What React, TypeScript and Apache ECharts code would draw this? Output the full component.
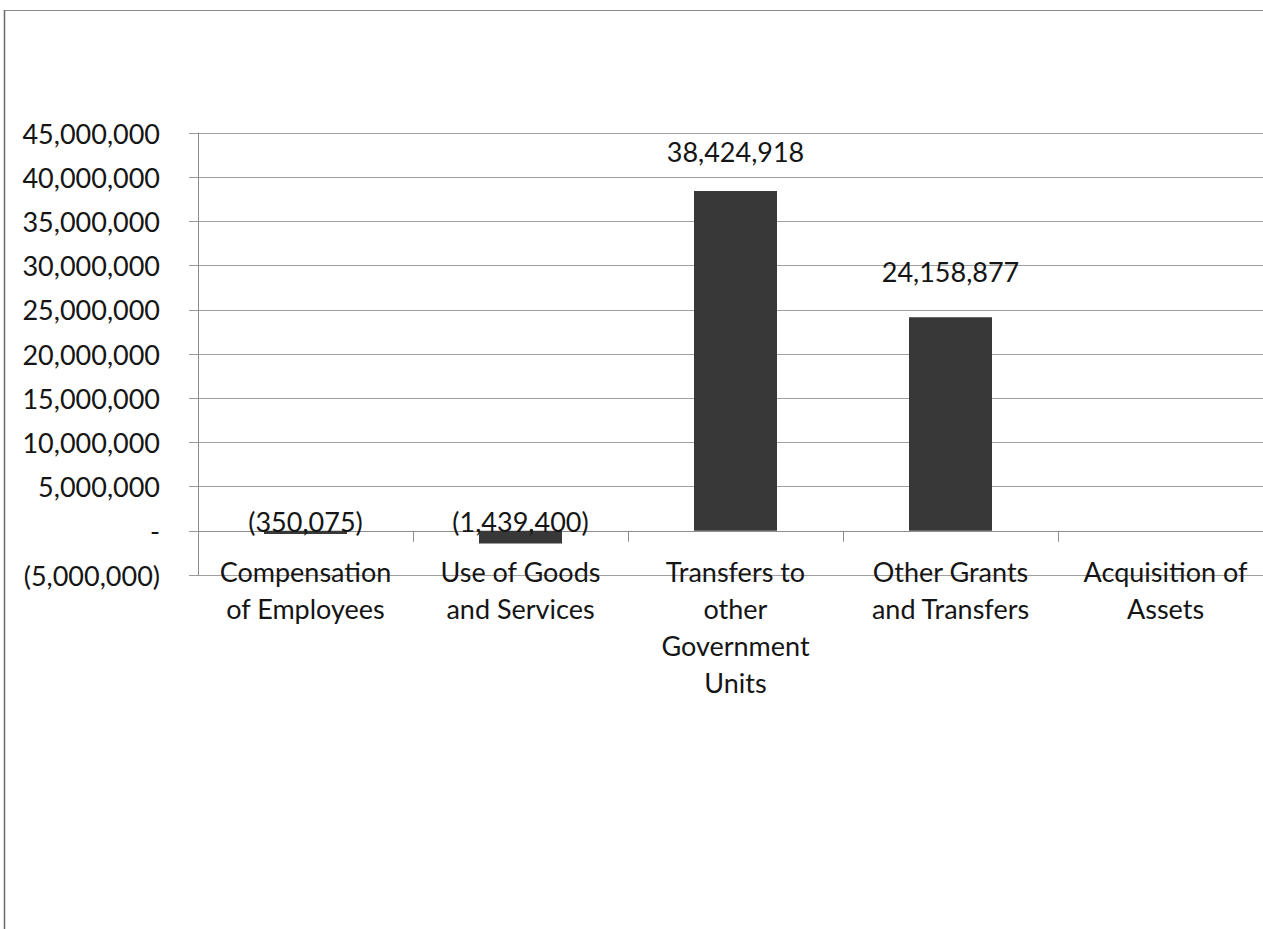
import React, { useEffect, useRef } from "react";
import * as echarts from "echarts";

const categories = [
  "Compensation\nof Employees",
  "Use of Goods\nand Services",
  "Transfers to\nother\nGovernment\nUnits",
  "Other Grants\nand Transfers",
  "Acquisition of\nAssets",
];
const values = [-350075, -1439400, 38424918, 24158877, 0];
const labelDistances = [-4, -4, 26, 32, 0];

const yMin = -5000000;
const yMax = 45000000;
const yInterval = 5000000;

const FONT = "Lato";
const TEXT = "#151515";

function fmt(v: number): string {
  if (v === 0) return "-";
  const s = Math.abs(v).toLocaleString("en-US");
  return v < 0 ? `(${s})` : s;
}

export default function App() {
  const ref = useRef<HTMLDivElement>(null);
  useEffect(() => {
    document.body.style.margin = "0";
    const chart = echarts.init(ref.current!, null, { renderer: "svg" });
    chart.setOption({
      animation: false,
      backgroundColor: "#ffffff",
      textStyle: { fontFamily: FONT },
      graphic: [
        { type: "line", shape: { x1: 4, y1: 10.5, x2: 1263, y2: 10.5 }, style: { stroke: "#8a8a8a", lineWidth: 1 } },
        { type: "line", shape: { x1: 4.5, y1: 10, x2: 4.5, y2: 929 }, style: { stroke: "#6a6a6a", lineWidth: 1.5 } },
      ],
      grid: {
        left: 198,
        top: 133,
        width: 1075,
        height: 442,
        containLabel: false,
        outerBoundsMode: "none",
      },
      xAxis: {
        type: "category",
        data: categories,
        axisLine: { onZero: true, lineStyle: { color: "#8c8c8c", width: 1 } },
        axisTick: { show: true, length: 11, interval: 0, lineStyle: { color: "#8c8c8c" } },
        axisLabel: {
          interval: 0,
          margin: -22,
          fontFamily: FONT,
          fontSize: 27,
          lineHeight: 37,
          color: TEXT,
        },
      },
      yAxis: {
        type: "value",
        min: yMin,
        max: yMax,
        interval: yInterval,
        axisLine: { show: true, lineStyle: { color: "#8c8c8c", width: 1 } },
        axisTick: { show: true, length: 9, lineStyle: { color: "#9a9a9a" } },
        splitLine: { show: true, lineStyle: { color: "#a0a0a0", width: 1 } },
        axisLabel: {
          margin: 38,
          fontFamily: FONT,
          fontSize: 27,
          color: TEXT,
          formatter: (v: number) => fmt(v),
        },
      },
      series: [
        {
          type: "bar",
          barWidth: 83,
          itemStyle: { color: "#383838" },
          data: values.map((v, i) => ({
            value: v,
            label: { distance: labelDistances[i] },
          })),
          label: {
            show: true,
            position: "top",
            fontFamily: FONT,
            fontSize: 27,
            color: TEXT,
            formatter: (p: any) => (p.value === 0 ? "" : fmt(p.value)),
          },
        },
      ],
    });
    return () => chart.dispose();
  }, []);
  return <div ref={ref} style={{ width: 1263, height: 929 }} />;
}
